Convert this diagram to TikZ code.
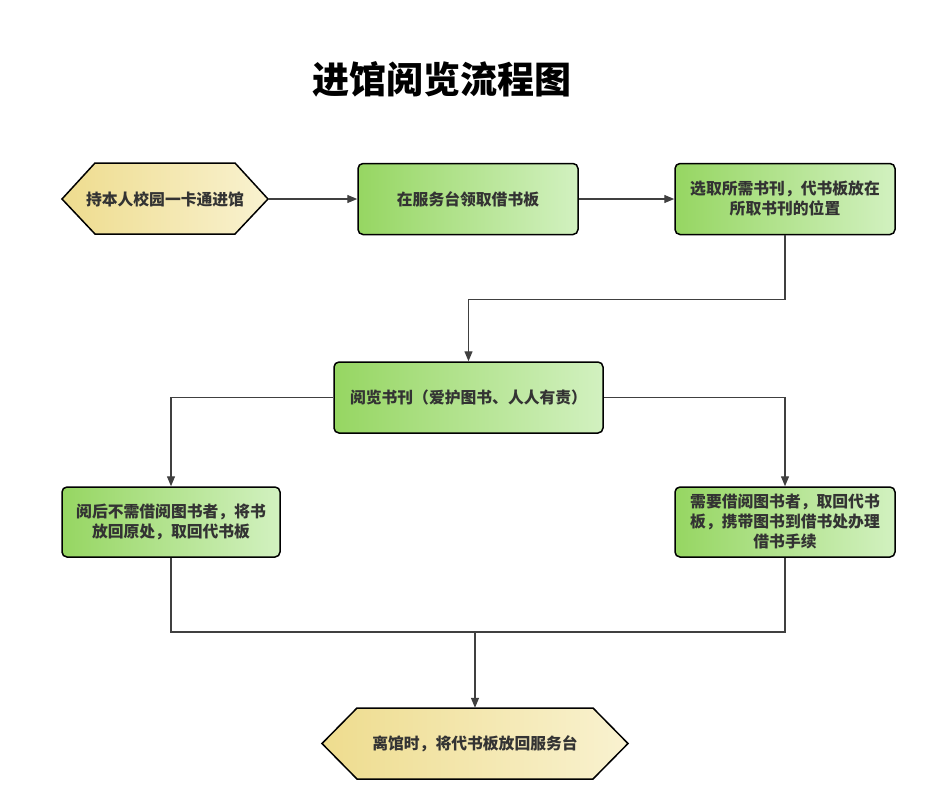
\documentclass[tikz,border=0pt]{standalone}
\usepackage{fontspec}
\setmainfont{Noto Sans CJK SC}
\usetikzlibrary{arrows.meta, positioning, calc}
\definecolor{flowgreen}{RGB}{150, 214, 98}
\definecolor{flowgreenlt}{RGB}{210, 241, 192}
\definecolor{flowyellow}{RGB}{238, 220, 142}
\definecolor{flowyellowlt}{RGB}{249, 242, 208}
\definecolor{flowline}{RGB}{64, 64, 64}
\definecolor{flowtext}{RGB}{51, 51, 51}

\tikzset{
  stepbox/.style={draw=black, line width=1.5pt, rounded corners=5pt,
    left color=flowgreen, right color=flowgreenlt,
    minimum width=220pt, minimum height=71pt, inner sep=0pt,
    align=center, text=flowtext, font=\fontsize{15.8}{20}\selectfont\bfseries},
  hexshape/.style={draw=black, line width=1.5pt,
    left color=flowyellow, right color=flowyellowlt},
  termtext/.style={minimum height=71pt, inner sep=0pt,
    align=center, text=flowtext, font=\fontsize{15.8}{20}\selectfont\bfseries},
  link/.style={draw=flowline, line width=1.3pt},
  flow/.style={link, -{Triangle[length=10pt, width=8pt]}}
}

\begin{document}
\begin{tikzpicture}[x=1pt, y=-1pt]
  \useasboundingbox (0,0) rectangle (931,788);

  \node[text=black, font=\fontsize{37}{40}\selectfont\bfseries] (title) at (442,79) {进馆阅览流程图};

  % entry
  \draw[hexshape] (62,199) -- (95,163) -- (235,163) -- (268,199) -- (235,234) -- (95,234) -- cycle;
  \node[termtext, minimum width=206pt] (enter) at (165,199) {持本人校园一卡通进馆};

  \node[stepbox] (getboard) at (468,199) {在服务台领取借书板};
  \node[stepbox] (choose) at (785,199) {选取所需书刊，代书板放在\\所取书刊的位置};
  \node[stepbox, minimum width=269pt] (read) at (468.5,397.5) {阅览书刊（爱护图书、人人有责）};
  \node[stepbox, minimum width=218pt, minimum height=70pt] (putback) at (171,522) {阅后不需借阅图书者，将书\\放回原处，取回代书板};
  \node[stepbox, minimum height=70pt] (borrow) at (785,522) {需要借阅图书者，取回代书\\板，携带图书到借书处办理\\借书手续};

  % exit
  \draw[hexshape] (322,743.5) -- (357,708) -- (593,708) -- (628,743.5) -- (593,779) -- (357,779) -- cycle;
  \node[termtext, minimum width=306pt] (leave) at (475,743.5) {离馆时，将代书板放回服务台};

  \coordinate (join) at (475,632);

  \draw[flow] (enter) -- (getboard);
  \draw[flow] (getboard) -- (choose);
  \draw[flow] (choose.south) -- ++(0,64) -| (read.north);
  \draw[flow] (read.west) -| (putback.north);
  \draw[flow] (read.east) -| (borrow.north);
  \draw[link] (putback.south) |- (borrow.south |- join) -- (borrow.south);
  \draw[flow] (join) -- (leave.north);
\end{tikzpicture}
\end{document}
